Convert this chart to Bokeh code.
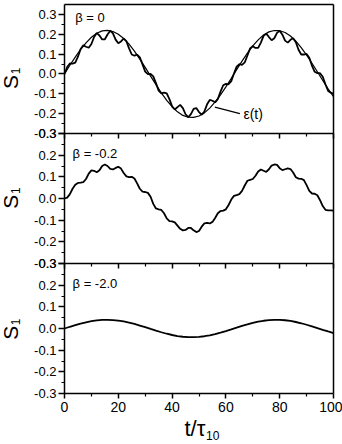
import math
from bokeh.plotting import figure
from bokeh.models import Range1d, LinearAxis, FixedTicker, Label, Arrow, PrintfTickFormatter
from bokeh.embed import file_html
from bokeh.resources import INLINE

# ---------------- data ----------------
t_fine = list(range(0, 101))          # t / tau_10, step 1
t_coarse = list(range(0, 101, 2))     # t / tau_10, step 2

# panel beta = 0 : S1
s1_beta0 = [0.000, 0.035, 0.053, 0.052, 0.057, 0.087, 0.126, 0.144, 0.137, 0.132,
            0.151, 0.186, 0.206, 0.194, 0.174, 0.175, 0.199, 0.218, 0.205, 0.173,
            0.155, 0.164, 0.178, 0.165, 0.129, 0.098, 0.092, 0.097, 0.084, 0.048,
            0.012, -0.001, 0.000, -0.012, -0.046, -0.084, -0.098, -0.094, -0.098, -0.127,
            -0.163, -0.179, -0.167, -0.156, -0.172, -0.203, -0.218, -0.202, -0.176, -0.172,
            -0.192, -0.205, -0.189, -0.153, -0.131, -0.135, -0.143, -0.127, -0.089, -0.057,
            -0.050, -0.052, -0.036, 0.002, 0.037, 0.049, 0.046, 0.058, 0.093, 0.129,
            0.140, 0.131, 0.131, 0.158, 0.192, 0.203, 0.186, 0.170, 0.180, 0.207,
            0.218, 0.198, 0.168, 0.158, 0.172, 0.180, 0.160, 0.122, 0.098, 0.098,
            0.101, 0.082, 0.042, 0.011, 0.004, 0.004, -0.014, -0.052, -0.086, -0.094,
            -0.100]

# panel beta = 0 : driving field eps(t)
eps_t = [0.000, 0.044, 0.085, 0.124, 0.157, 0.185, 0.205, 0.217, 0.220, 0.214,
         0.200, 0.179, 0.150, 0.115, 0.075, 0.033, -0.011, -0.054, -0.095, -0.133,
         -0.165, -0.191, -0.209, -0.218, -0.219, -0.212, -0.196, -0.172, -0.141, -0.105,
         -0.065, -0.022, 0.022, 0.065, 0.105, 0.141, 0.172, 0.196, 0.212, 0.219,
         0.218, 0.209, 0.191, 0.165, 0.133, 0.095, 0.054, 0.011, -0.033, -0.075,
         -0.115]

# panel beta = -0.2 : S1
s1_beta02 = [0.000, 0.004, 0.020, 0.045, 0.064, 0.072, 0.073, 0.076, 0.090, 0.115,
             0.130, 0.128, 0.121, 0.130, 0.150, 0.157, 0.150, 0.137, 0.134, 0.141,
             0.146, 0.138, 0.118, 0.102, 0.099, 0.100, 0.092, 0.070, 0.045, 0.032,
             0.030, 0.026, 0.008, -0.025, -0.046, -0.050, -0.053, -0.068, -0.092, -0.104,
             -0.106, -0.110, -0.125, -0.140, -0.147, -0.145, -0.136, -0.136, -0.147, -0.155,
             -0.150, -0.130, -0.115, -0.113, -0.115, -0.108, -0.090, -0.068, -0.058, -0.056,
             -0.050, -0.030, -0.005, 0.012, 0.016, 0.020, 0.035, 0.060, 0.082, 0.086,
             0.090, 0.105, 0.125, 0.134, 0.128, 0.123, 0.135, 0.152, 0.157, 0.155,
             0.140, 0.131, 0.135, 0.139, 0.136, 0.120, 0.098, 0.092, 0.091, 0.085,
             0.062, 0.035, 0.023, 0.022, 0.015, -0.008, -0.035, -0.052, -0.055, -0.055,
             -0.056]

# panel beta = -2.0 : S1
s1_beta2 = [0.000, 0.008, 0.0155, 0.0226, 0.0286, 0.0337, 0.0373, 0.0395, 0.040, 0.039,
            0.0364, 0.0326, 0.0273, 0.0209, 0.0137, 0.006, -0.002, -0.0098, -0.0173, -0.0242,
            -0.030, -0.0348, -0.038, -0.0397, -0.0399, -0.0386, -0.0357, -0.0313, -0.0257, -0.0191,
            -0.0118, -0.004, 0.004, 0.0118, 0.0191, 0.0257, 0.0313, 0.0357, 0.0386, 0.0399,
            0.0397, 0.038, 0.0348, 0.030, 0.0242, 0.0173, 0.0098, 0.002, -0.006, -0.0137,
            -0.0209]

x_major = [0, 20, 40, 60, 80, 100]
x_minor = [10, 30, 50, 70, 90]
y_major = [-0.3, -0.2, -0.1, 0.0, 0.1, 0.2, 0.3]
y_minor = [-0.25, -0.15, -0.05, 0.05, 0.15, 0.25]

x_limits = (0, 100)
panel_limits = {"p1": (-0.3, 0.35), "p2": (-0.3, 0.3), "p3": (-0.3, 0.3)}
panel_titles = {"p1": "\u03b2 = 0", "p2": "\u03b2 = -0.2", "p3": "\u03b2 = -2.0"}

# ---------------- layout (pixels) ----------------
W, H = 342, 444
LEFT, RIGHT = 64, 9
panel_px = {"p1": (4, 133), "p2": (133, 263), "p3": (263, 393)}
FONT = "Liberation Sans"

# the plotting frame covers the whole canvas; each panel maps onto its own strip
kx = (W - LEFT - RIGHT) / (x_limits[1] - x_limits[0])
x_rng = Range1d(x_limits[0] - LEFT / kx, x_limits[1] + RIGHT / kx)

def panel_range(name):
    lo, hi = panel_limits[name]
    top, bot = panel_px[name]
    k = (hi - lo) / (bot - top)
    return Range1d(lo - (H - bot) * k, hi + top * k)

p = figure(width=W, height=H, output_backend="svg", toolbar_location=None,
           x_range=x_rng, y_range=panel_range("p3"),
           x_axis_location=None, y_axis_location=None,
           min_border_left=0, min_border_right=0, min_border_top=0, min_border_bottom=0)
p.extra_y_ranges = {"p1": panel_range("p1"), "p2": panel_range("p2")}
p.grid.visible = False
p.outline_line_color = None
p.background_fill_color = "white"
p.border_fill_color = "white"

rn = {"p1": "p1", "p2": "p2", "p3": "default"}
LW = 1.5

def style_ticks(ax, major_out, minor_out):
    ax.major_tick_out = major_out
    ax.major_tick_in = 0
    ax.minor_tick_out = minor_out
    ax.minor_tick_in = 0
    ax.axis_line_width = LW
    ax.axis_line_color = "black"
    ax.major_tick_line_width = LW
    ax.minor_tick_line_width = 1.2

for name in ["p1", "p2", "p3"]:
    lo, hi = panel_limits[name]
    # bottom x axis of each panel (labels only on the lowest one)
    ax = LinearAxis(y_range_name=rn[name], fixed_location=lo, bounds=x_limits,
                    ticker=FixedTicker(ticks=x_major, minor_ticks=x_minor))
    style_ticks(ax, 5, 3)
    ax.major_label_text_font = FONT
    ax.major_label_text_font_size = "14px"
    ax.major_label_text_color = "black"
    ax.major_label_standoff = 3
    if name != "p3":
        ax.major_label_text_alpha = 0
    p.add_layout(ax, "below")

    # left y axis of each panel
    ay = LinearAxis(y_range_name=rn[name], fixed_location=x_limits[0], bounds=(lo, hi),
                    ticker=FixedTicker(ticks=y_major, minor_ticks=y_minor),
                    formatter=PrintfTickFormatter(format="%.1f"))
    style_ticks(ay, 6, 3)
    ay.major_label_text_font = FONT
    ay.major_label_text_font_size = "13px"
    ay.major_label_text_color = "black"
    ay.major_label_standoff = 2
    p.add_layout(ay, "left")

    # right frame edge (no ticks)
    ar = LinearAxis(y_range_name=rn[name], fixed_location=x_limits[1], bounds=(lo, hi),
                    ticker=FixedTicker(ticks=[], minor_ticks=[]))
    style_ticks(ar, 0, 0)
    ar.major_label_text_alpha = 0
    p.add_layout(ar, "right")

# top frame edge (no ticks)
at = LinearAxis(y_range_name="p1", fixed_location=panel_limits["p1"][1], bounds=x_limits,
                ticker=FixedTicker(ticks=[], minor_ticks=[]))
style_ticks(at, 0, 0)
at.major_label_text_alpha = 0
p.add_layout(at, "above")

# curves
p.line(t_coarse, eps_t, y_range_name="p1", line_color="black", line_width=1.2)
p.line(t_fine, s1_beta0, y_range_name="p1", line_color="black", line_width=1.8)
p.line(t_fine, s1_beta02, y_range_name="p2", line_color="black", line_width=1.8)
p.line(t_coarse, s1_beta2, line_color="black", line_width=1.8)

# panel labels and S_1 axis titles
beta_pos = {"p1": (4.0, 0.282), "p2": (3.0, 0.208), "p3": (3.0, 0.208)}
s_pos_y = {"p1": -0.04, "p2": -0.015, "p3": -0.02}
for name in ["p1", "p2", "p3"]:
    bx, by = beta_pos[name]
    p.add_layout(Label(x=bx, y=by, y_range_name=rn[name], text=panel_titles[name],
                       text_font=FONT, text_font_size="13px", text_color="black",
                       text_align="left", text_baseline="middle"))
    sy = s_pos_y[name]
    p.add_layout(Label(x=-20.1, y=sy, y_range_name=rn[name], text="S",
                       angle=math.pi / 2, text_font=FONT, text_font_size="21px",
                       text_color="black", text_align="center", text_baseline="middle"))
    p.add_layout(Label(x=-20.1, y=sy, y_range_name=rn[name], text="1",
                       x_offset=5.5, y_offset=11, angle=math.pi / 2, text_font=FONT,
                       text_font_size="12px", text_color="black",
                       text_align="center", text_baseline="middle"))

# eps(t) annotation
p.add_layout(Arrow(x_start=55.9, y_start=-0.167, x_end=65.2, y_end=-0.2,
                   y_range_name="p1", end=None, line_color="black", line_width=1.2))
p.add_layout(Label(x=66.5, y=-0.2, y_range_name="p1", text="\u03b5(t)",
                   text_font=FONT, text_font_size="14px", text_color="black",
                   text_align="left", text_baseline="middle"))

# x axis title t/tau_10
p.add_layout(Label(x=44.6, y=-0.462, text="t/\u03c4", text_font=FONT,
                   text_font_size="22px", text_color="black",
                   text_align="left", text_baseline="middle"))
p.add_layout(Label(x=52.6, y=-0.494, text="10", text_font=FONT,
                   text_font_size="12px", text_color="black",
                   text_align="left", text_baseline="middle"))

open("out.html", "w").write(file_html(p, INLINE))
